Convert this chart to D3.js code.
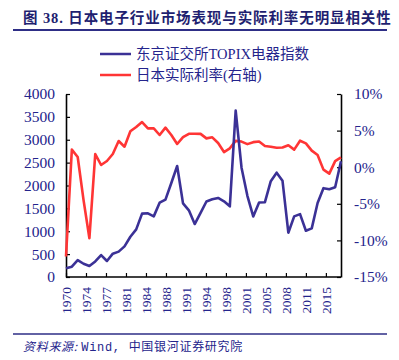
<!DOCTYPE html>
<html><head><meta charset="utf-8">
<script src="https://cdn.jsdelivr.net/npm/d3@7"></script>
<style>body{margin:0;background:#fff;} svg{display:block;}</style>
</head><body>
<svg id="c" width="399" height="360"></svg>
<script>
const years = d3.range(1970, 2018);
const topix = [190,225,370,290,240,340,480,350,510,555,670,880,1040,1385,1392,1325,1624,1690,2055,2426,1610,1457,1158,1400,1650,1698,1727,1655,1545,3636,2390,1775,1325,1628,1635,2095,2280,2105,968,1325,1375,1012,1063,1617,1942,1917,1961,2530];
const realRate = [-12.2,2.4,1.4,-4.5,-9.7,1.8,0.3,0.85,1.8,3.58,2.8,4.9,5.5,6.17,5.3,5.3,4.4,5.4,4.4,3.17,4.1,4.56,4.57,4.55,3.94,4.08,3.3,2.07,2.58,3.6,3.5,3.15,3.42,3.5,2.9,2.8,2.66,2.7,3.0,2.4,3.62,3.26,2.26,1.67,-0.33,-0.88,0.83,1.35];
const xTickLabels = ["1970","1974","1977","1981","1984","1988","1991","1994","1998","2001","2005","2008","2011","2015"];
const leftTicks = [0,500,1000,1500,2000,2500,3000,3500,4000];
const rightTicks = [-15,-10,-5,0,5,10];
const seriesNames = ["东京证交所TOPIX电器指数","日本实际利率(右轴)"];
const title = "图 38. 日本电子行业市场表现与实际利率无明显相关性";
const source = ["资料来源: ", "Wind, ", "中国银河证券研究院"];

const navy = "#24248c", blue = "#3b3196", red = "#ff3535";
const serif = "'Liberation Serif','Noto Sans CJK SC',serif";
const svg = d3.select("#c");

const L = 66, R = 341, T = 94, B = 277;
const x = d3.scaleLinear().domain([1970, 2017]).range([L, R]);
const yL = d3.scaleLinear().domain([0, 4000]).range([B, T]);
const yR = d3.scaleLinear().domain([-15, 10]).range([B, T]);

// title
svg.append("text").attr("x", 23).attr("y", 23).attr("fill", "#1f1f70")
  .attr("font-family", serif).attr("font-weight", "bold").attr("font-size", 14.5)
  .attr("letter-spacing", 0.9)
  .text(title);
svg.append("line").attr("x1", 13).attr("x2", 387).attr("y1", 30).attr("y2", 30)
  .attr("stroke", "#2e2e86").attr("stroke-width", 2);

// legend
const leg = svg.append("g");
[[blue, 54], [red, 75]].forEach(([c, yy], i) => {
  leg.append("line").attr("x1", 100).attr("x2", 131).attr("y1", yy).attr("y2", yy)
    .attr("stroke", c).attr("stroke-width", 2.5);
  leg.append("text").attr("x", 136).attr("y", yy).attr("dy", "0.36em")
    .attr("fill", navy).attr("font-family", serif).attr("font-size", 14.5)
    .text(seriesNames[i]);
});

// axes
const axL = d3.axisLeft(yL).tickValues(leftTicks).tickSizeInner(-4).tickSizeOuter(0).tickPadding(11).tickFormat(d3.format("d"));
const axR = d3.axisRight(yR).tickValues(rightTicks).tickSizeInner(-4).tickSizeOuter(0).tickPadding(13).tickFormat(d => d + "%");
const xTickVals = xTickLabels.map((d, i) => 1970 + i * 41 / 12);
const axB = d3.axisBottom(x).tickValues(xTickVals).tickSizeInner(-4).tickSizeOuter(0)
  .tickFormat((d, i) => xTickLabels[i]);

function style(g) {
  g.select(".domain").attr("stroke", "#000").attr("stroke-width", 1.6);
  g.selectAll(".tick line").attr("stroke", "#000").attr("stroke-width", 1.2);
  g.selectAll("text").attr("fill", navy).attr("font-family", serif);
}
const gL = svg.append("g").attr("transform", `translate(${L},0)`).call(axL).call(style);
gL.selectAll("text").attr("font-size", 15.5);
const gR = svg.append("g").attr("transform", `translate(${R},0)`).call(axR).call(style);
gR.selectAll("text").attr("font-size", 15.5);
const gB = svg.append("g").attr("transform", `translate(0,${B})`).call(axB).call(style);
gB.select(".domain").attr("d", `M${L},0H${R}`);
gB.selectAll(".tick text").attr("font-size", 13.5)
  .attr("transform", "rotate(-90)").attr("text-anchor", "end")
  .attr("x", -10).attr("y", 0).attr("dy", "0.35em");

// lines
const lineL = d3.line().x((d, i) => x(years[i])).y(d => yL(d));
const lineR = d3.line().x((d, i) => x(years[i])).y(d => yR(d));
svg.append("path").datum(realRate).attr("d", lineR).attr("fill", "none")
  .attr("stroke", red).attr("stroke-width", 2.6).attr("stroke-linejoin", "round");
svg.append("path").datum(topix).attr("d", lineL).attr("fill", "none")
  .attr("stroke", blue).attr("stroke-width", 2.6).attr("stroke-linejoin", "round");

// footer
svg.append("line").attr("x1", 13).attr("x2", 387).attr("y1", 334).attr("y2", 334)
  .attr("stroke", "#2e2e86").attr("stroke-width", 1.5);
const src = svg.append("text").attr("x", 23).attr("y", 351).attr("fill", navy)
  .attr("font-size", 12).attr("font-family", "'Noto Sans CJK SC',sans-serif")
  .attr("letter-spacing", 0.7);
src.append("tspan").attr("font-style", "italic").text(source[0]);
src.append("tspan").attr("font-family", "'Liberation Mono','Noto Sans CJK SC',monospace").text(source[1]);
src.append("tspan").text(source[2]);
</script>
</body></html>
